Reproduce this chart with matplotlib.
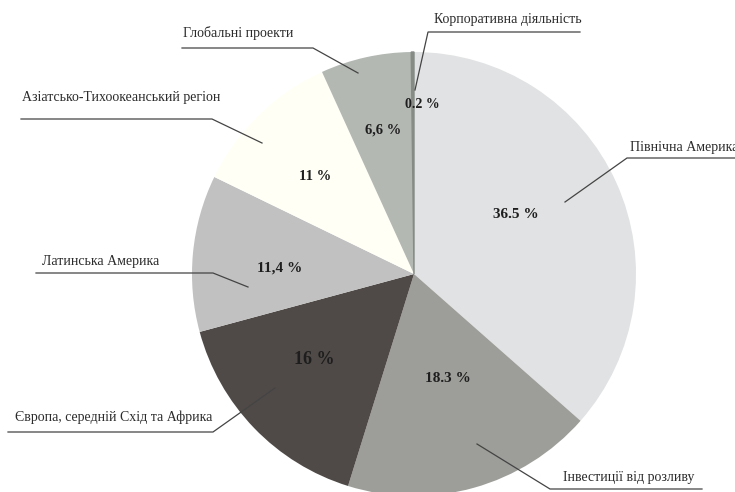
import matplotlib.pyplot as plt

regions = ['Північна Америка', 'Інвестиції від розливу', 'Європа, середній Схід та Африка',
           'Латинська Америка', 'Азіатсько-Тихоокеанський регіон', 'Глобальні проекти',
           'Корпоративна діяльність']
shares = [36.5, 18.3, 16, 11.4, 11, 6.6, 0.2]
share_labels = ['36.5 %', '18.3 %', '16 %', '11,4 %', '11 %', '6,6 %', '0.2 %']
colors = ['#e1e2e3', '#9d9e99', '#4f4a47', '#c1c1c1', '#fffff6', '#b3b8b3', '#868b86']

# where each callout text sits (pixels), its underline span, and the point inside the slice
callouts = {
    'Північна Америка': dict(text=(630, 147), line=(627, 760, 158), tip=(565, 202)),
    'Інвестиції від розливу': dict(text=(563, 477), line=(550, 702, 489), tip=(477, 444)),
    'Європа, середній Схід та Африка': dict(text=(15, 417), line=(8, 213, 432), tip=(275, 388)),
    'Латинська Америка': dict(text=(42, 262), line=(36, 213, 273), tip=(248, 287)),
    'Азіатсько-Тихоокеанський регіон': dict(text=(22, 98), line=(21, 212, 119), tip=(262, 143)),
    'Глобальні проекти': dict(text=(183, 33), line=(182, 313, 48), tip=(358, 73)),
    'Корпоративна діяльність': dict(text=(434, 20), line=(428, 580, 32), tip=(415, 90)),
}
value_pos = [(516, 215), (448, 378), (314, 360), (280, 268), (315, 176), (383, 130), (422, 105)]
value_size = [11, 11, 13, 11, 10.5, 10.5, 10]

fig = plt.figure(figsize=(7.35, 4.92), dpi=100)
ax = fig.add_axes([0, 0, 1, 1])

# y axis is flipped below, so counterclockwise in data runs clockwise on screen from 12 o'clock
ax.pie(shares, colors=colors, center=(414, 274), radius=222, startangle=-90,
       counterclock=True, wedgeprops=dict(linewidth=0), frame=True)
ax.set_xlim(0, 735)
ax.set_ylim(492, 0)  # pixel-style coordinates, y grows downward
ax.set_aspect('equal')
ax.axis('off')

# thin corporate slice gets a visible edge so it reads as a line
ax.patches[-1].set_edgecolor('#868b86')
ax.patches[-1].set_linewidth(1.0)

font = 'Liberation Serif'
ink = '#2b2b2b'
for name in regions:
    c = callouts[name]
    x0, x1, yl = c['line']
    tx, ty = c['tip']
    # underline, then slant to the slice
    if abs(tx - x0) < abs(tx - x1):
        ax.plot([x1, x0, tx], [yl, yl, ty], color='#444444', lw=0.9, solid_joinstyle='miter')
    else:
        ax.plot([x0, x1, tx], [yl, yl, ty], color='#444444', lw=0.9, solid_joinstyle='miter')
    ax.text(c['text'][0], c['text'][1], name, family=font, fontsize=10, color=ink,
            ha='left', va='center')

for (x, y), lab, fs in zip(value_pos, share_labels, value_size):
    ax.text(x, y, lab, family=font, fontsize=fs, fontweight='bold', color='#1e1e1e',
            ha='center', va='center')

fig.savefig('out.png', dpi=100)
